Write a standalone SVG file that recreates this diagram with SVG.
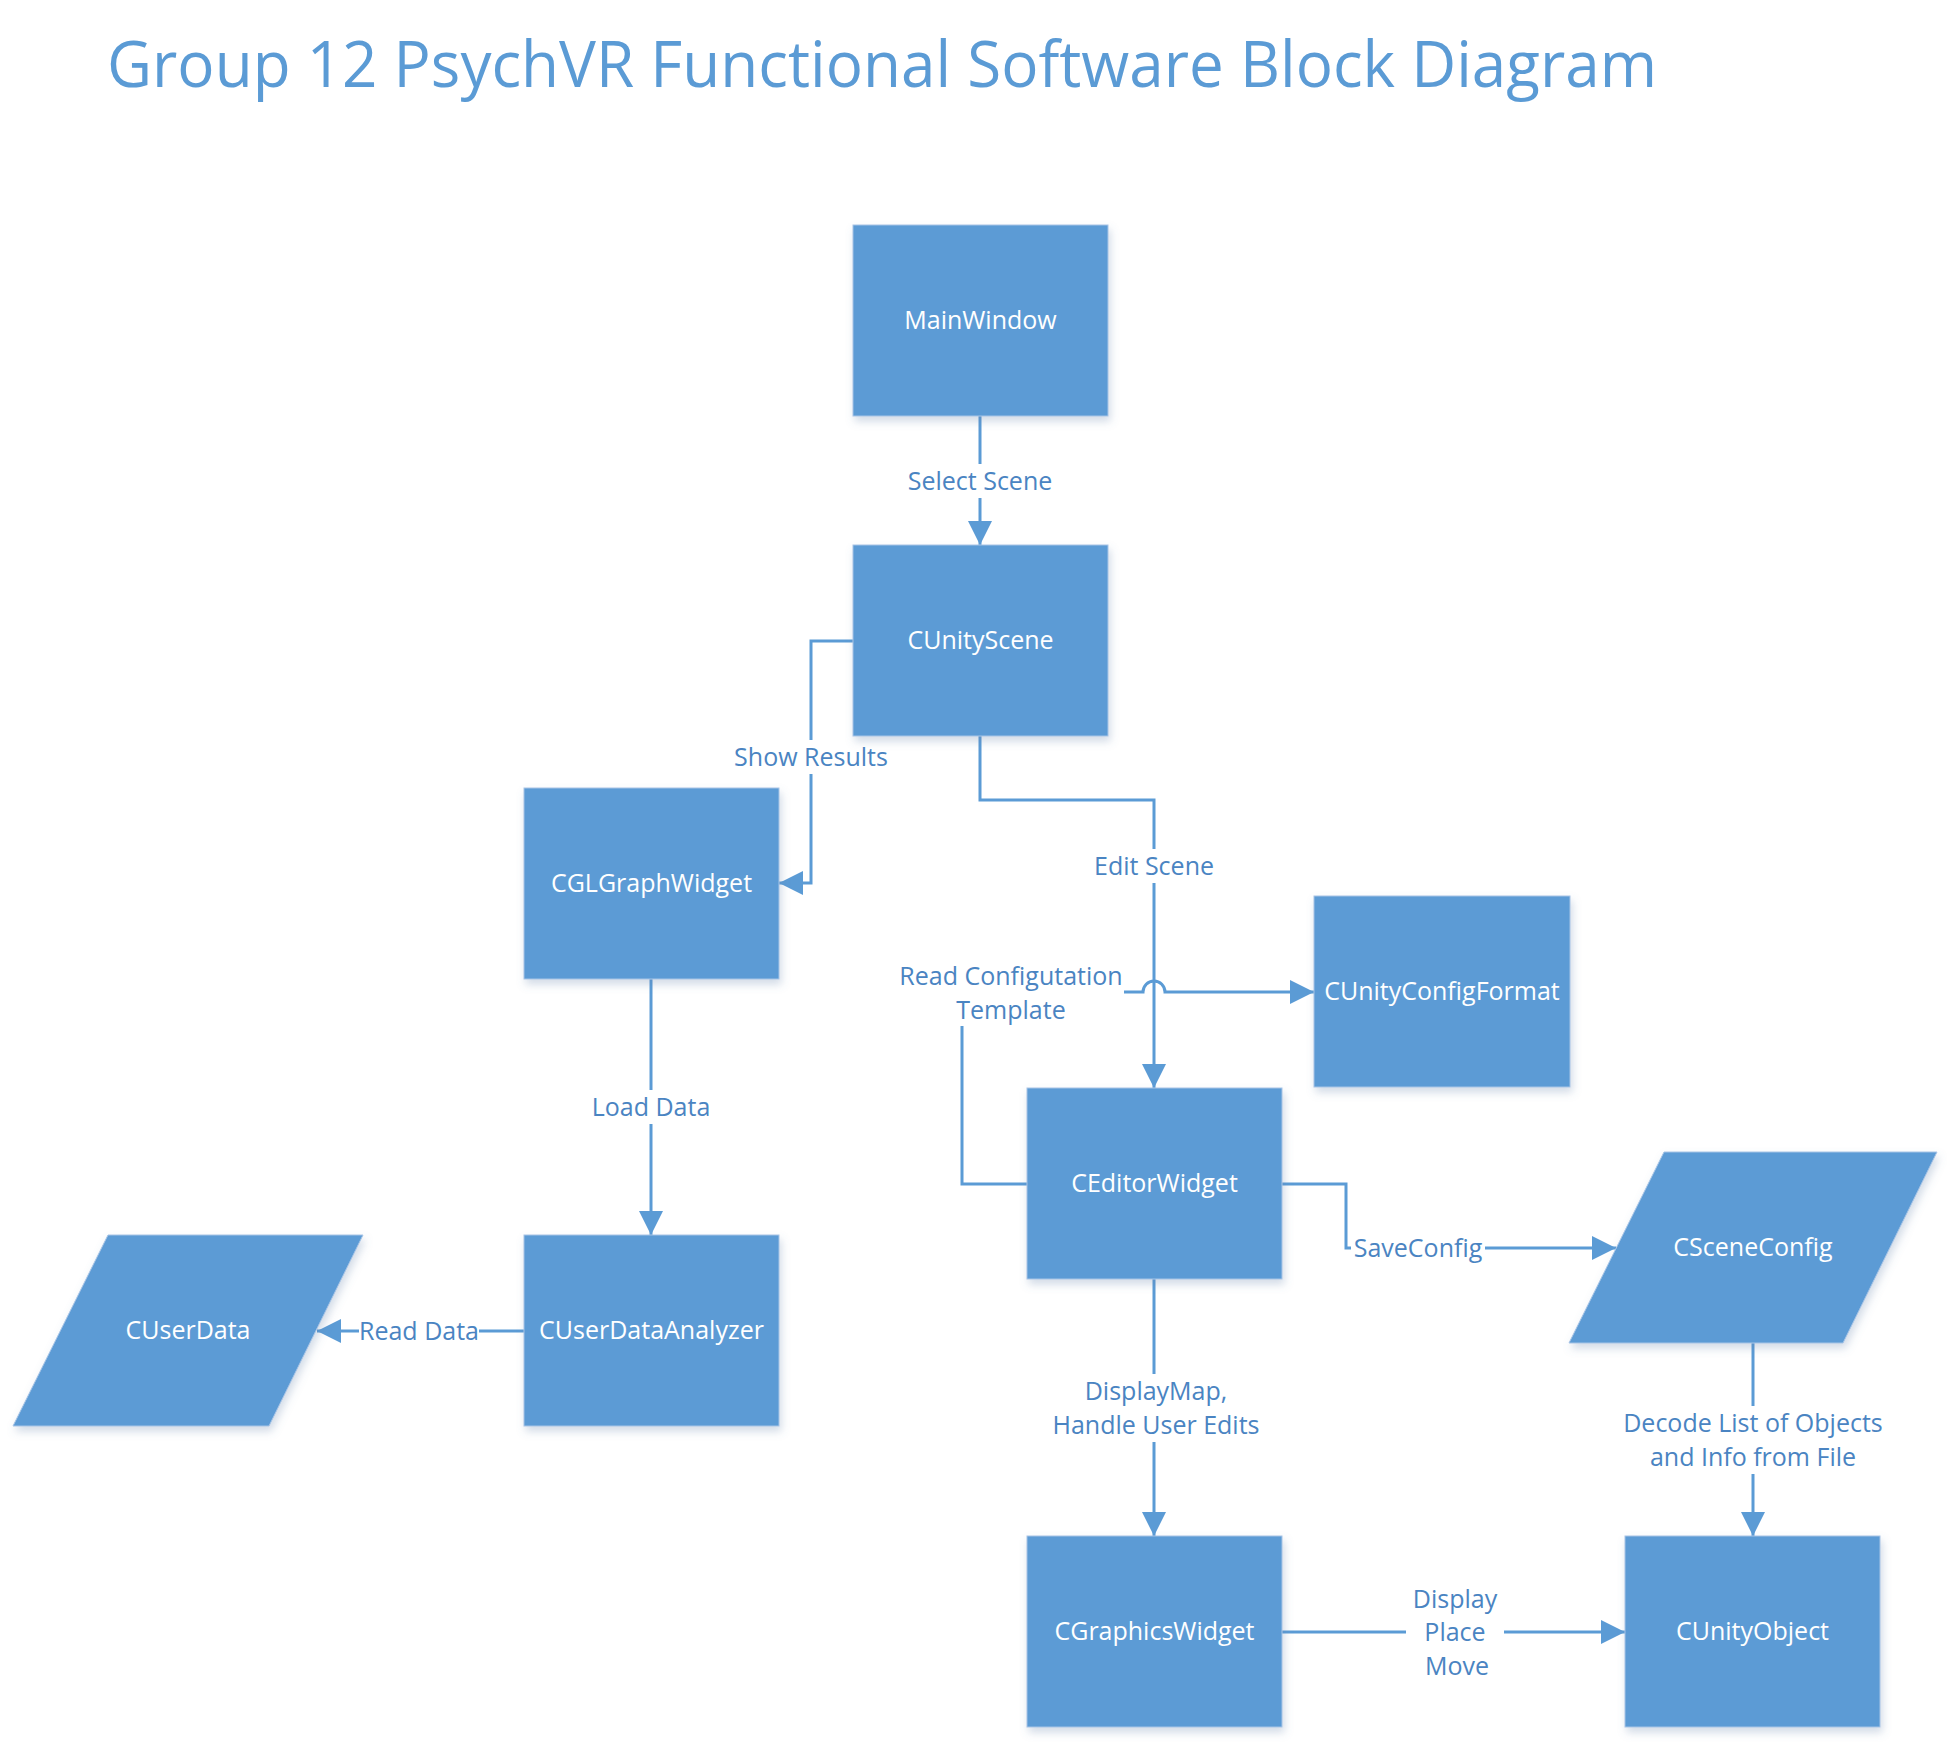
<svg xmlns="http://www.w3.org/2000/svg" width="1952" height="1747" viewBox="0 0 1952 1747">
<style>
.node{fill:#5B9BD5;stroke:#A8C4E6;stroke-width:1;filter:url(#sh)}
.nt{font-family:"Open Sans","Noto Sans",sans-serif;font-size:25px;fill:#FFFFFF;text-anchor:middle}
.lt{font-family:"Open Sans","Noto Sans",sans-serif;font-size:25px;fill:#4A84C2;text-anchor:middle}
.conn{fill:none;stroke:#5B9BD5;stroke-width:3}
.arr{marker-end:url(#ah)}
.bg{fill:#FFFFFF}
</style>
<defs>
<filter id="sh" x="-10%" y="-10%" width="125%" height="130%">
<feDropShadow dx="2" dy="5" stdDeviation="4" flood-color="#5B7FA8" flood-opacity="0.28"/>
</filter>
<marker id="ah" markerUnits="userSpaceOnUse" markerWidth="24" markerHeight="24" refX="24" refY="12" orient="auto">
<path d="M0,0 L24,12 L0,24 Z" fill="#5B9BD5"/>
</marker>
</defs>
<rect x="0" y="0" width="1952" height="1747" fill="#FFFFFF"/>
<text x="107" y="87" font-family="Open Sans, Noto Sans, sans-serif" font-size="64" fill="#5B9BD5" textLength="1550" lengthAdjust="spacingAndGlyphs">Group 12 PsychVR Functional Software Block Diagram</text>

<g id="connectors">
<path class="conn arr" d="M980,416 V545"/>
<path class="conn arr" d="M853,641 H811 V883 H779"/>
<path class="conn arr" d="M980,736 V800 H1154 V1088"/>
<path class="conn arr" d="M1027,1184 H962 V992 H1143 A11,11 0 0 1 1165,992 H1314"/>
<path class="conn arr" d="M651,979 V1235"/>
<path class="conn arr" d="M524,1331 H317"/>
<path class="conn arr" d="M1282,1184 H1346 V1248 H1616"/>
<path class="conn arr" d="M1154,1279 V1536"/>
<path class="conn arr" d="M1753,1343 V1536"/>
<path class="conn arr" d="M1282,1632 H1625"/>
</g>

<g id="labels">
<rect class="bg" x="904" y="464" width="152" height="34"/>
<text class="lt" x="980" y="490">Select Scene</text>
<rect class="bg" x="731" y="740" width="160" height="34"/>
<text class="lt" x="811" y="766">Show Results</text>
<rect class="bg" x="1090" y="849" width="128" height="34"/>
<text class="lt" x="1154" y="875">Edit Scene</text>
<rect class="bg" x="898" y="958" width="226" height="68"/>
<text class="lt" x="1011" y="985">Read Configutation</text>
<text class="lt" x="1011" y="1019">Template</text>
<rect class="bg" x="590" y="1090" width="122" height="34"/>
<text class="lt" x="651" y="1116">Load Data</text>
<rect class="bg" x="359" y="1314" width="120" height="34"/>
<text class="lt" x="419" y="1340">Read Data</text>
<rect class="bg" x="1351" y="1231" width="134" height="34"/>
<text class="lt" x="1418" y="1257">SaveConfig</text>
<rect class="bg" x="1048" y="1374" width="216" height="68"/>
<text class="lt" x="1156" y="1400">DisplayMap,</text>
<text class="lt" x="1156" y="1434">Handle User Edits</text>
<rect class="bg" x="1617" y="1406" width="272" height="68"/>
<text class="lt" x="1753" y="1432">Decode List of Objects</text>
<text class="lt" x="1753" y="1466">and Info from File</text>
<rect class="bg" x="1406" y="1582" width="98" height="102"/>
<text class="lt" x="1455" y="1608">Display</text>
<text class="lt" x="1455" y="1641">Place</text>
<text class="lt" x="1457" y="1675">Move</text>
</g>

<g id="MainWindow">
<rect class="node" x="853" y="225" width="255" height="191"/>
<text class="nt" x="980.5" y="329">MainWindow</text>
</g>
<g id="CUnityScene">
<rect class="node" x="853" y="545" width="255" height="191"/>
<text class="nt" x="980.5" y="649">CUnityScene</text>
</g>
<g id="CGLGraphWidget">
<rect class="node" x="524" y="788" width="255" height="191"/>
<text class="nt" x="651.5" y="892">CGLGraphWidget</text>
</g>
<g id="CUserDataAnalyzer">
<rect class="node" x="524" y="1235" width="255" height="191"/>
<text class="nt" x="651.5" y="1339">CUserDataAnalyzer</text>
</g>
<g id="CUserData">
<polygon class="node" points="108,1235 363,1235 269,1426 13,1426"/>
<text class="nt" x="188" y="1339">CUserData</text>
</g>
<g id="CUnityConfigFormat">
<rect class="node" x="1314" y="896" width="256" height="191"/>
<text class="nt" x="1442" y="1000">CUnityConfigFormat</text>
</g>
<g id="CEditorWidget">
<rect class="node" x="1027" y="1088" width="255" height="191"/>
<text class="nt" x="1154.5" y="1192">CEditorWidget</text>
</g>
<g id="CSceneConfig">
<polygon class="node" points="1664,1152 1937,1152 1843,1343 1569,1343"/>
<text class="nt" x="1753" y="1256">CSceneConfig</text>
</g>
<g id="CGraphicsWidget">
<rect class="node" x="1027" y="1536" width="255" height="191"/>
<text class="nt" x="1154.5" y="1640">CGraphicsWidget</text>
</g>
<g id="CUnityObject">
<rect class="node" x="1625" y="1536" width="255" height="191"/>
<text class="nt" x="1752.5" y="1640">CUnityObject</text>
</g>
</svg>
